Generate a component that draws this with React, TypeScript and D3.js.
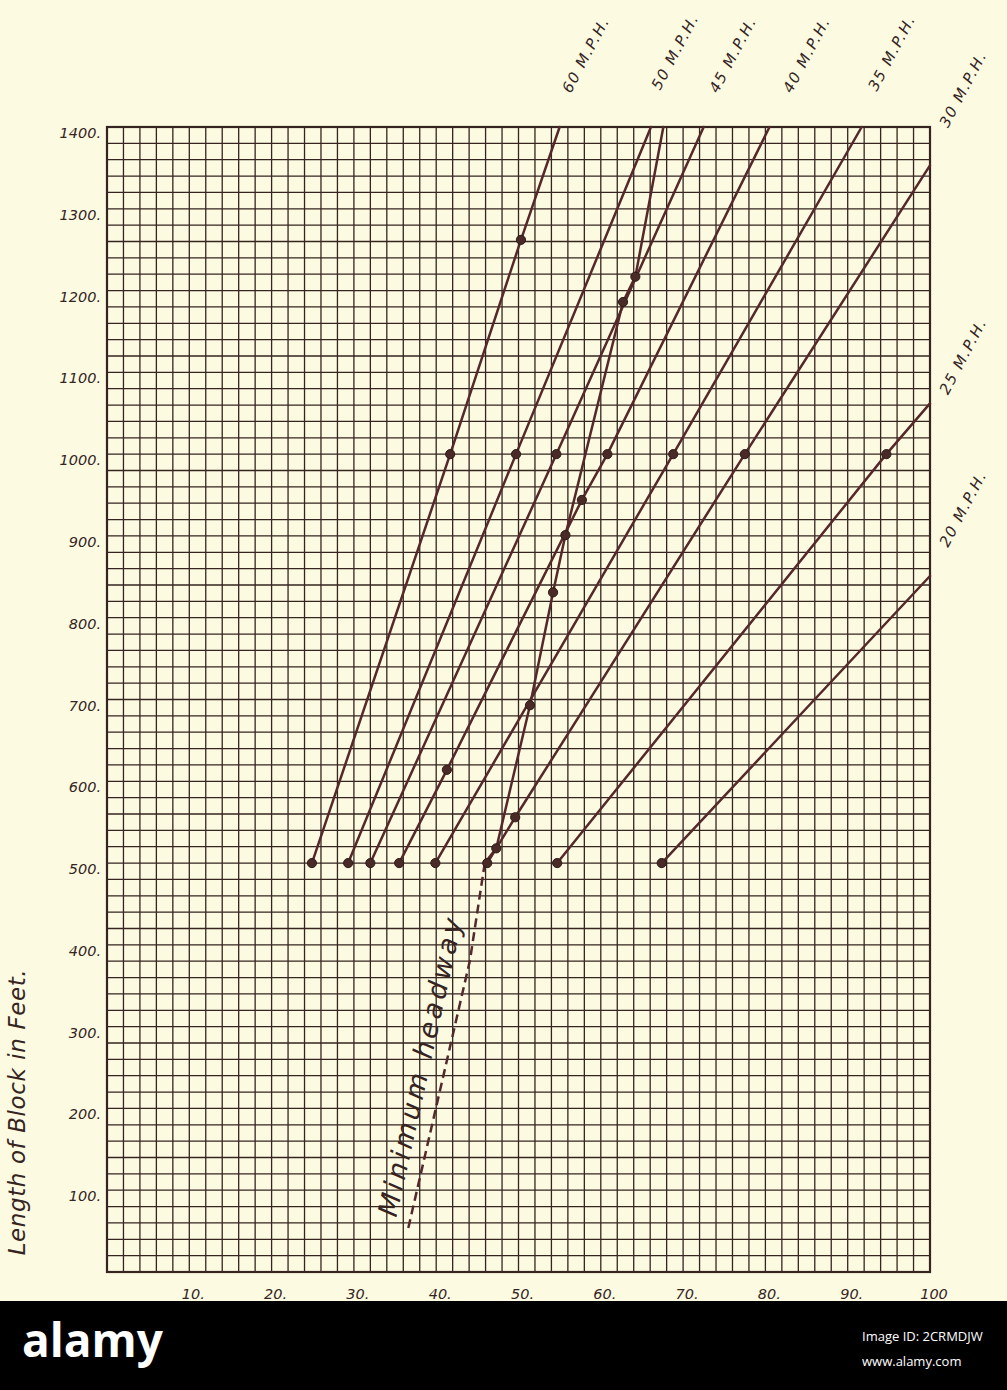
import React from 'react';
import * as d3 from 'd3';

// ─── data ─────────────────────────────────────────────────────────────────
const speedLabels = ['60 M.P.H.', '50 M.P.H.', '45 M.P.H.', '40 M.P.H.', '35 M.P.H.', '30 M.P.H.', '25 M.P.H.', '20 M.P.H.'];

// plotted points (x units, block length in feet) for each speed
const pointX = [
    [24.9, 41.7, 50.3],
    [29.3, 49.7],
    [32.0, 54.6],
    [35.5, 41.3, 57.7, 60.8],
    [39.9, 68.8],
    [46.2, 49.6, 77.5],
    [54.7, 94.7],
    [67.4],
];
const pointFeet = [
    [500, 1000, 1262],
    [500, 1000],
    [500, 1000],
    [500, 614, 944, 1000],
    [500, 1000],
    [500, 556, 1000],
    [500, 1000],
    [500],
];
// where each line leaves the sheet
const edgeX = [55.0, 66.1, 72.5, 80.5, 91.7, 100, 100, 100];
const edgeFeet = [1400, 1400, 1400, 1400, 1400, 1353, 1062, 851];

// minimum headway curve
const headwayX = [45.9, 47.3, 51.4, 54.2, 55.7, 62.7, 64.2];
const headwayFeet = [500, 518, 693, 831, 901, 1186, 1217];
const headwayEndX = 67.6;
const headwayEndFeet = 1400;
const headwayDashedX = [45.9, 44.1, 36.5];
const headwayDashedFeet = [500, 381, 49];

const xTicks = [10, 20, 30, 40, 50, 60, 70, 80, 90, 100];
const yTicks = [1400, 1300, 1200, 1100, 1000, 900, 800, 700, 600, 500, 400, 300, 200, 100];

// ─── layout ───────────────────────────────────────────────────────────────
const W = 1007;
const H = 1390;
const ink = '#35241f';
const lineInk = '#55282a';
const paper = '#fcfbe2';
const font = '"DejaVu Sans", sans-serif';

// label anchor offsets from the line's edge point (px)
const labelOffset: [number, number][] = [
    [11, -33], [9, -36], [14, -33], [22, -33], [15, -35], [18, -37], [18, -8], [18, -28],
];

const App: React.FC = () => {
    const x = d3.scaleLinear().domain([0, 100]).range([107, 930]);
    const y = d3.scaleLinear().domain([0, 1400]).range([1272, 127]);

    const line = d3.line<[number, number]>()
        .x(d => x(d[0]))
        .y(d => y(d[1]));

    const vGrid = d3.range(0, 101, 2);
    const hGrid = d3.range(0, 1401, 20);

    const headwayPts: [number, number][] = headwayX.map((v, i) => [v, headwayFeet[i]]);
    const dashedPts: [number, number][] = headwayDashedX.map((v, i) => [v, headwayDashedFeet[i]]);

    return (
        <svg width={W} height={H} style={{ position: 'absolute', left: 0, top: 0, background: paper }}
            fontFamily={font}>
            <rect width={W} height={H} fill={paper} />

            {/* grid */}
            <g stroke={ink} strokeWidth={1.3}>
                {vGrid.map(v => (
                    <line key={'v' + v} x1={x(v)} x2={x(v)} y1={y(0)} y2={y(1400)} />
                ))}
                {hGrid.map(v => (
                    <line key={'h' + v} y1={y(v)} y2={y(v)} x1={x(0)} x2={x(100)} />
                ))}
            </g>
            <rect x={x(0)} y={y(1400)} width={x(100) - x(0)} height={y(0) - y(1400)}
                fill="none" stroke={ink} strokeWidth={2.2} />

            {/* y labels */}
            <g fontStyle="italic" fontSize={14.5} fill={ink} textAnchor="end">
                {yTicks.map(t => (
                    <text key={t} x={101} y={y(t) + 11}>{t}.</text>
                ))}
            </g>
            {/* x labels */}
            <g fontStyle="italic" fontSize={14.5} fill={ink} textAnchor="middle">
                {xTicks.map(t => (
                    <text key={t} x={x(t) + 4} y={1299}>{t === 100 ? '100' : `${t}.`}</text>
                ))}
            </g>
            <text transform={`translate(25,1112) rotate(-90)`} textAnchor="middle"
                fontStyle="italic" fontSize={23} letterSpacing={0.6} fill={ink}>Length of Block in Feet.</text>

            {/* speed lines */}
            <g fill="none" stroke={lineInk} strokeWidth={2.5} strokeLinecap="round">
                {speedLabels.map((s, i) => {
                    const pts: [number, number][] = pointX[i].map((v, j) => [v, pointFeet[i][j]]);
                    pts.push([edgeX[i], edgeFeet[i]]);
                    return <path key={s} d={line(pts) || ''} />;
                })}
                <path d={line([...headwayPts, [headwayEndX, headwayEndFeet]]) || ''} />
                <path d={line(dashedPts) || ''} strokeDasharray="9 5" strokeLinecap="butt" />
            </g>

            {/* plotted points */}
            <g fill="#4a2a27" stroke="#2e1a18" strokeWidth={1}>
                {speedLabels.map((s, i) => pointX[i].map((v, j) => (
                    <circle key={s + j} cx={x(v)} cy={y(pointFeet[i][j])} r={4.6} />
                )))}
                {headwayPts.slice(1).map((p, j) => (
                    <circle key={'hw' + j} cx={x(p[0])} cy={y(p[1])} r={4.6} />
                ))}
            </g>

            {/* speed labels */}
            <g fontStyle="italic" fontSize={15} letterSpacing={1.6} fill={ink}>
                {speedLabels.map((s, i) => {
                    const lx = x(edgeX[i]) + labelOffset[i][0];
                    const ly = y(edgeFeet[i]) + labelOffset[i][1];
                    return (
                        <text key={s} transform={`translate(${lx},${ly}) rotate(-62)`}>{s}</text>
                    );
                })}
            </g>

            {/* minimum headway label */}
            <text transform={`translate(${x(39.2)},${y(250)}) rotate(-77.5)`} textAnchor="middle"
                fontStyle="italic" fontSize={27} letterSpacing={3.5} fill={ink}>Minimum headway</text>

            {/* bottom band */}
            <rect x={0} y={1301} width={W} height={H - 1301} fill="#000" />
            <text x={22} y={1357} fontSize={46} fontWeight={700} fill="#fff"
                fontFamily='"Open Sans", sans-serif'>alamy</text>
            <text x={862} y={1341} fontSize={13} fill="#fff" fontFamily='"Open Sans", sans-serif'>Image ID: 2CRMDJW</text>
            <text x={862} y={1366} fontSize={13} fill="#fff" fontFamily='"Open Sans", sans-serif'>www.alamy.com</text>
        </svg>
    );
};

export default App;
